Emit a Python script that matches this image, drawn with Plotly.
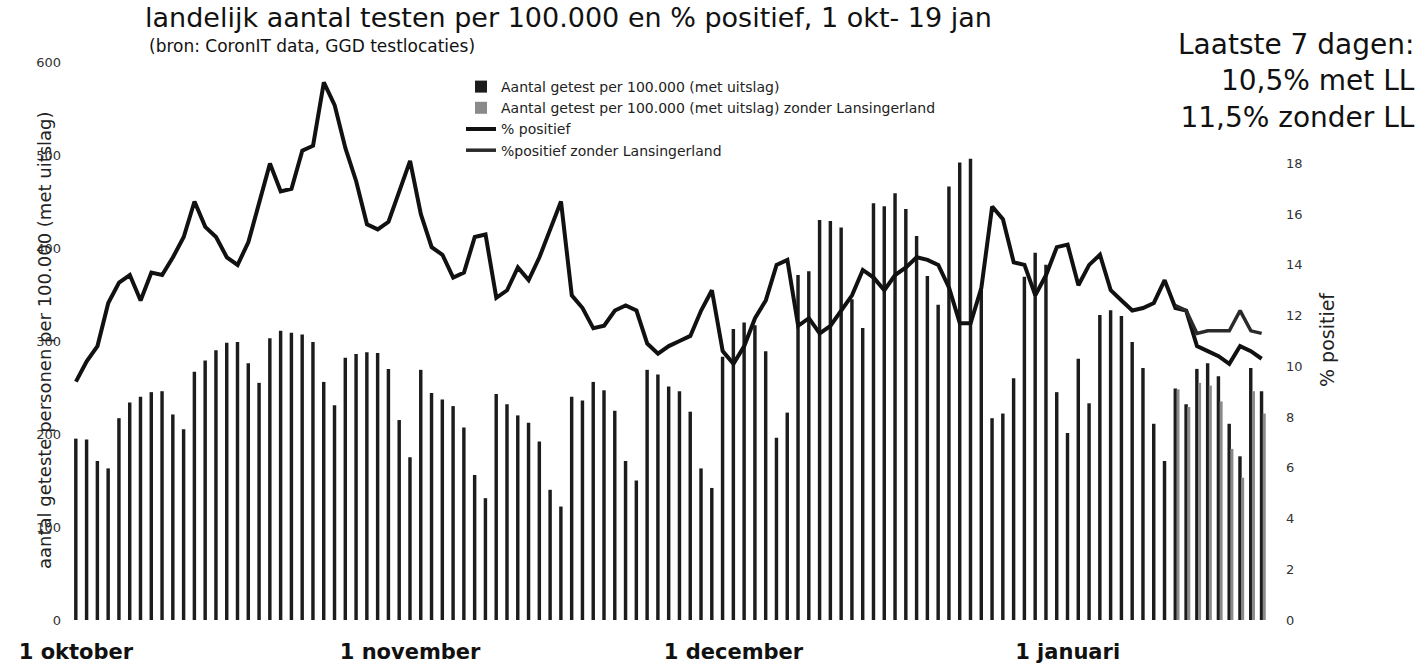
import pandas as pd
import plotly.graph_objects as go

# Daily series, 1 October 2020 - 19 January 2021
dagen = pd.date_range("2020-10-01", "2021-01-19", freq="D")

# Number tested per 100,000 (with result), all test locations
getest = [
    195, 194, 171, 163, 217, 234, 240, 245, 246, 221,
    205, 267, 279, 290, 298, 299, 276, 255, 303, 311,
    309, 307, 299, 256, 231, 282, 286, 288, 287, 270,
    215, 175, 269, 244, 237, 230, 207, 156, 131, 243,
    232, 220, 212, 192, 140, 122, 240, 236, 256, 247,
    225, 171, 150, 269, 264, 251, 246, 224, 163, 142,
    283, 313, 320, 317, 289, 196, 223, 371, 375, 430,
    429, 422, 345, 314, 448, 445, 459, 442, 413, 370,
    339, 466, 492, 496, 357, 217, 222, 260, 369, 395,
    382, 245, 201, 281, 233, 328, 333, 327, 299, 271,
    211, 171, 249, 232, 270, 276, 262, 211, 176, 271,
    246,
]

# Percentage positive, all test locations
pct_positief = [
    9.4, 10.2, 10.8, 12.5, 13.3, 13.6, 12.6, 13.7, 13.6, 14.3,
    15.1, 16.5, 15.5, 15.1, 14.3, 14.0, 14.9, 16.4, 18.0, 16.9,
    17.0, 18.5, 18.7, 21.2, 20.3, 18.6, 17.3, 15.6, 15.4, 15.7,
    16.9, 18.1, 16.0, 14.7, 14.4, 13.5, 13.7, 15.1, 15.2, 12.7,
    13.0, 13.9, 13.4, 14.3, 15.4, 16.5, 12.8, 12.3, 11.5, 11.6,
    12.2, 12.4, 12.2, 10.9, 10.5, 10.8, 11.0, 11.2, 12.2, 13.0,
    10.6, 10.1, 10.8, 11.9, 12.6, 14.0, 14.2, 11.6, 11.9, 11.3,
    11.6, 12.2, 12.8, 13.8, 13.5, 13.0, 13.6, 13.9, 14.3, 14.2,
    14.0, 13.1, 11.7, 11.7, 13.1, 16.3, 15.8, 14.1, 14.0, 12.8,
    13.6, 14.7, 14.8, 13.2, 14.0, 14.4, 13.0, 12.6, 12.2, 12.3,
    12.5, 13.4, 12.3, 12.2, 10.8, 10.6, 10.4, 10.1, 10.8, 10.6,
    10.3,
]

# Series without Lansingerland, 11 - 19 January 2021
dagen_zonder_ll = pd.date_range("2021-01-11", "2021-01-19", freq="D")
getest_zonder_ll = [248, 229, 255, 252, 235, 184, 153, 246, 222]
pct_positief_zonder_ll = [12.4, 12.2, 11.3, 11.4, 11.4, 11.4, 12.2, 11.4, 11.3]

x_ticks = ["2020-10-01", "2020-11-01", "2020-12-01", "2021-01-01"]
x_ticktext = ["1 oktober", "1 november", "1 december", "1 januari"]
y_ticks = [0, 100, 200, 300, 400, 500, 600]
y2_ticks = [0, 2, 4, 6, 8, 10, 12, 14, 16, 18]

DAY_MS = 86400000
FONT = "DejaVu Sans"

# plot area in pixels: left 62, right 1285, top 62, bottom 620
PL, PW, PB, PH = 62, 1223, 620, 558


def px_x(x):
    return (x - PL) / PW


def px_y(y):
    return (PB - y) / PH


fig = go.Figure()

fig.add_trace(go.Bar(
    x=dagen, y=getest,
    name="Aantal getest per 100.000 (met uitslag)",
    marker=dict(color="#1c1c1c", line=dict(width=0)),
    width=0.32 * DAY_MS, offset=-0.17 * DAY_MS,
))
fig.add_trace(go.Bar(
    x=dagen_zonder_ll, y=getest_zonder_ll,
    name="Aantal getest per 100.000 (met uitslag) zonder Lansingerland",
    marker=dict(color="#8a8a8a", line=dict(width=0)),
    width=0.28 * DAY_MS, offset=0.1 * DAY_MS,
))
fig.add_trace(go.Scatter(
    x=dagen, y=pct_positief, yaxis="y2", mode="lines",
    name="% positief",
    line=dict(color="#111111", width=4),
))
fig.add_trace(go.Scatter(
    x=dagen_zonder_ll, y=pct_positief_zonder_ll, yaxis="y2", mode="lines",
    name="%positief zonder Lansingerland",
    line=dict(color="#2a2a2a", width=3.5),
))

start = pd.Timestamp("2020-10-01") - pd.Timedelta(hours=31)
end = pd.Timestamp("2021-01-19") + pd.Timedelta(hours=52)

fig.update_layout(
    width=1424, height=668,
    margin=dict(l=PL, r=1424 - PL - PW, t=PB - PH, b=668 - PB),
    paper_bgcolor="white", plot_bgcolor="white",
    barmode="overlay",
    font=dict(family=FONT, color="#222"),
    showlegend=True,
    legend=dict(
        x=px_x(461), y=px_y(71),
        xanchor="left", yanchor="top",
        bgcolor="rgba(0,0,0,0)",
        font=dict(family=FONT, size=14, color="#222"),
        traceorder="normal",
    ),
    xaxis=dict(
        type="date", range=[start, end],
        tickvals=x_ticks, ticktext=x_ticktext,
        tickfont=dict(family=FONT, size=21, color="#111", weight="bold"),
        showgrid=False, zeroline=False, showline=False, ticks="",
        ticklabelstandoff=17, automargin=False,
    ),
    yaxis=dict(
        range=[0, 600], tickvals=y_ticks,
        tickfont=dict(family=FONT, size=13, color="#333"),
        showgrid=False, zeroline=False, showline=False, ticks="",
        automargin=False,
    ),
    yaxis2=dict(
        range=[0, 22], tickvals=y2_ticks, overlaying="y", side="right",
        tickfont=dict(family=FONT, size=13, color="#333"),
        showgrid=False, zeroline=False, showline=False, ticks="",
        automargin=False,
    ),
)

fig.add_annotation(
    text="landelijk aantal testen per 100.000 en % positief, 1 okt- 19 jan",
    xref="paper", yref="paper", x=px_x(143), y=px_y(18),
    xanchor="left", yanchor="middle", showarrow=False,
    font=dict(family=FONT, size=27, color="#111"),
)
fig.add_annotation(
    text="(bron: CoronIT data, GGD testlocaties)",
    xref="paper", yref="paper", x=px_x(147), y=px_y(46),
    xanchor="left", yanchor="middle", showarrow=False,
    font=dict(family=FONT, size=17, color="#111"),
)
fig.add_annotation(
    text="Laatste 7 dagen:<br>10,5% met LL<br>11,5% zonder LL",
    xref="paper", yref="paper", x=px_x(1417), y=px_y(81),
    xanchor="right", yanchor="middle", align="right", showarrow=False,
    font=dict(family=FONT, size=28, color="#111"),
)
fig.add_annotation(
    text="aantal geteste personen per 100.000 (met uitslag)",
    xref="paper", yref="paper", x=px_x(44), y=px_y(340),
    xanchor="center", yanchor="middle", textangle=-90, showarrow=False,
    font=dict(family=FONT, size=18, color="#222"),
)
fig.add_annotation(
    text="% positief",
    xref="paper", yref="paper", x=px_x(1327), y=px_y(340),
    xanchor="center", yanchor="middle", textangle=-90, showarrow=False,
    font=dict(family=FONT, size=19, color="#222"),
)

fig.write_html("out.html")
